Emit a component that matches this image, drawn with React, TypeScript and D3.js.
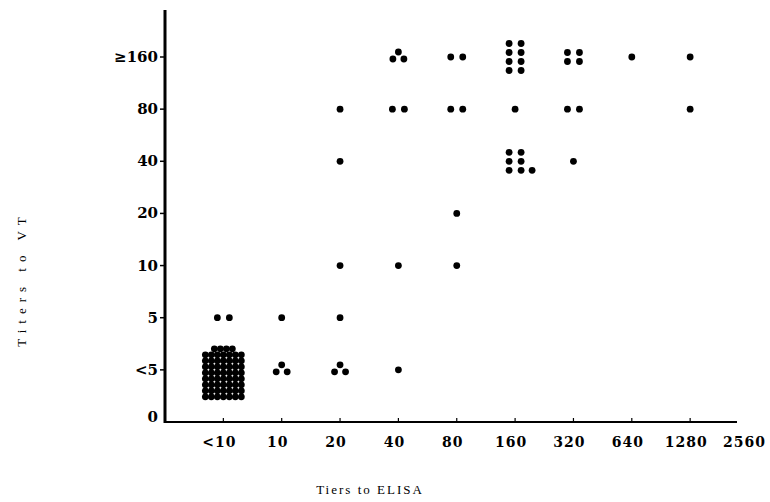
import React from "react";
import * as d3 from "d3";

// Categories
const elisaCats = ["<10", "10", "20", "40", "80", "160", "320", "640", "1280", "2560"];
const vtCats = ["0", "<5", "5", "10", "20", "40", "80", "≥160"];

// Cell counts (ELISA titer, VT titer, number of sera)
const cellElisa = ["<10", "<10", "10", "10", "20", "20", "20", "20", "20", "40", "40", "40", "40", "80", "80", "80", "80", "160", "160", "160", "320", "320", "320", "640", "1280", "1280"];
const cellVt = ["5", "<5", "5", "<5", "80", "40", "10", "5", "<5", "≥160", "80", "10", "<5", "≥160", "80", "20", "10", "≥160", "80", "40", "≥160", "80", "40", "≥160", "≥160", "80"];
const cellCount = [2, 60, 1, 3, 1, 1, 1, 1, 3, 3, 2, 1, 1, 2, 2, 1, 1, 8, 1, 7, 4, 2, 1, 1, 1, 1];

const W = 770;
const H = 502;

// layout of n dots inside one cell (packing, not data)
function cellOffsets(n: number): [number, number][] {
  if (n === 1) return [[0, 0]];
  if (n === 2) return [[-6, 0], [6, 0]];
  if (n === 3) return [[0, -5], [-5.5, 2], [5.5, 2]];
  if (n <= 8) {
    const pairs = Math.floor(n / 2);
    const dy = 9;
    const out: [number, number][] = [];
    for (let r = 0; r < pairs; r++) {
      const y = (r - (pairs - 1) / 2) * dy;
      out.push([-6, y], [6, y]);
    }
    if (n % 2 === 1) out.push([17, ((pairs - 1) / 2) * dy]);
    return out;
  }
  const cols = 7;
  const dx = 6;
  const dy = 6;
  const rows = Math.ceil(n / cols);
  const out: [number, number][] = [];
  for (let i = 0; i < n; i++) {
    const r = Math.floor(i / cols);
    const inRow = r < rows - 1 || n % cols === 0 ? cols : n % cols;
    const c = i % cols;
    const x = (c - (inRow - 1) / 2) * dx;
    const y = ((rows - 1) / 2 - r) * dy + 3;
    out.push([x, y]);
  }
  return out;
}

export default function App() {
  const x = d3.scalePoint<string>().domain(["origin", ...elisaCats]).range([165, 748.5]);
  const y = d3.scalePoint<string>().domain(vtCats).range([422, 57]);

  const dots: { cx: number; cy: number; key: string }[] = [];
  cellElisa.forEach((e, i) => {
    const v = cellVt[i];
    const offs = cellOffsets(cellCount[i]);
    offs.forEach(([dx, dy], j) => {
      dots.push({ cx: (x(e) as number) + dx, cy: (y(v) as number) + dy, key: `${i}-${j}` });
    });
  });

  const labelFont = "'DejaVu Serif', 'Liberation Serif', serif";
  const axisY = y("0") as number;
  const axisX = x("origin") as number;

  return (
    <svg
      width={W}
      height={H}
      style={{ position: "absolute", left: 0, top: 0, background: "#fff" }}
    >
      <rect x={0} y={0} width={W} height={H} fill="#fff" />
      {/* axes */}
      <line x1={axisX} y1={10} x2={axisX} y2={axisY + 1} stroke="#000" strokeWidth={3} />
      <line x1={axisX - 1} y1={axisY} x2={737} y2={axisY} stroke="#000" strokeWidth={2} />

      {/* y ticks */}
      {vtCats.map((c) => (
        <g key={c}>
          {c !== "0" && (
            <line x1={axisX - 5} x2={axisX} y1={y(c)} y2={y(c)} stroke="#000" strokeWidth={1.5} />
          )}
          <text
            x={158}
            y={(y(c) as number) + (c === "0" ? -5 : 0)}
            textAnchor="end"
            dominantBaseline="central"
            fontFamily={labelFont}
            fontWeight="bold"
            fontSize={15}
            fill="#000"
          >
            {c}
          </text>
        </g>
      ))}

      {/* x ticks */}
      {elisaCats.map((c) => (
        <g key={c}>
          {c !== "2560" && (
            <line x1={x(c)} x2={x(c)} y1={axisY} y2={axisY - 4} stroke="#000" strokeWidth={1.2} />
          )}
          <text
            x={(x(c) as number) - 4}
            y={447}
            textAnchor="middle"
            fontFamily={labelFont}
            fontWeight="bold"
            fontSize={14}
            letterSpacing={1}
            fill="#000"
          >
            {c}
          </text>
        </g>
      ))}

      {/* points */}
      {dots.map((d) => (
        <circle key={d.key} cx={d.cx} cy={d.cy} r={3.4} fill="#000" />
      ))}

      {/* axis titles */}
      <text
        x={370}
        y={494}
        textAnchor="middle"
        fontFamily="'Liberation Serif', serif"
        fontSize={13}
        letterSpacing={2}
        fill="#000"
      >
        Tiers to ELISA
      </text>
      <text
        transform="translate(26,279) rotate(-90)"
        textAnchor="middle"
        fontFamily="'Liberation Serif', serif"
        fontSize={13}
        letterSpacing={6}
        fill="#000"
      >
        Titers to VT
      </text>
    </svg>
  );
}
